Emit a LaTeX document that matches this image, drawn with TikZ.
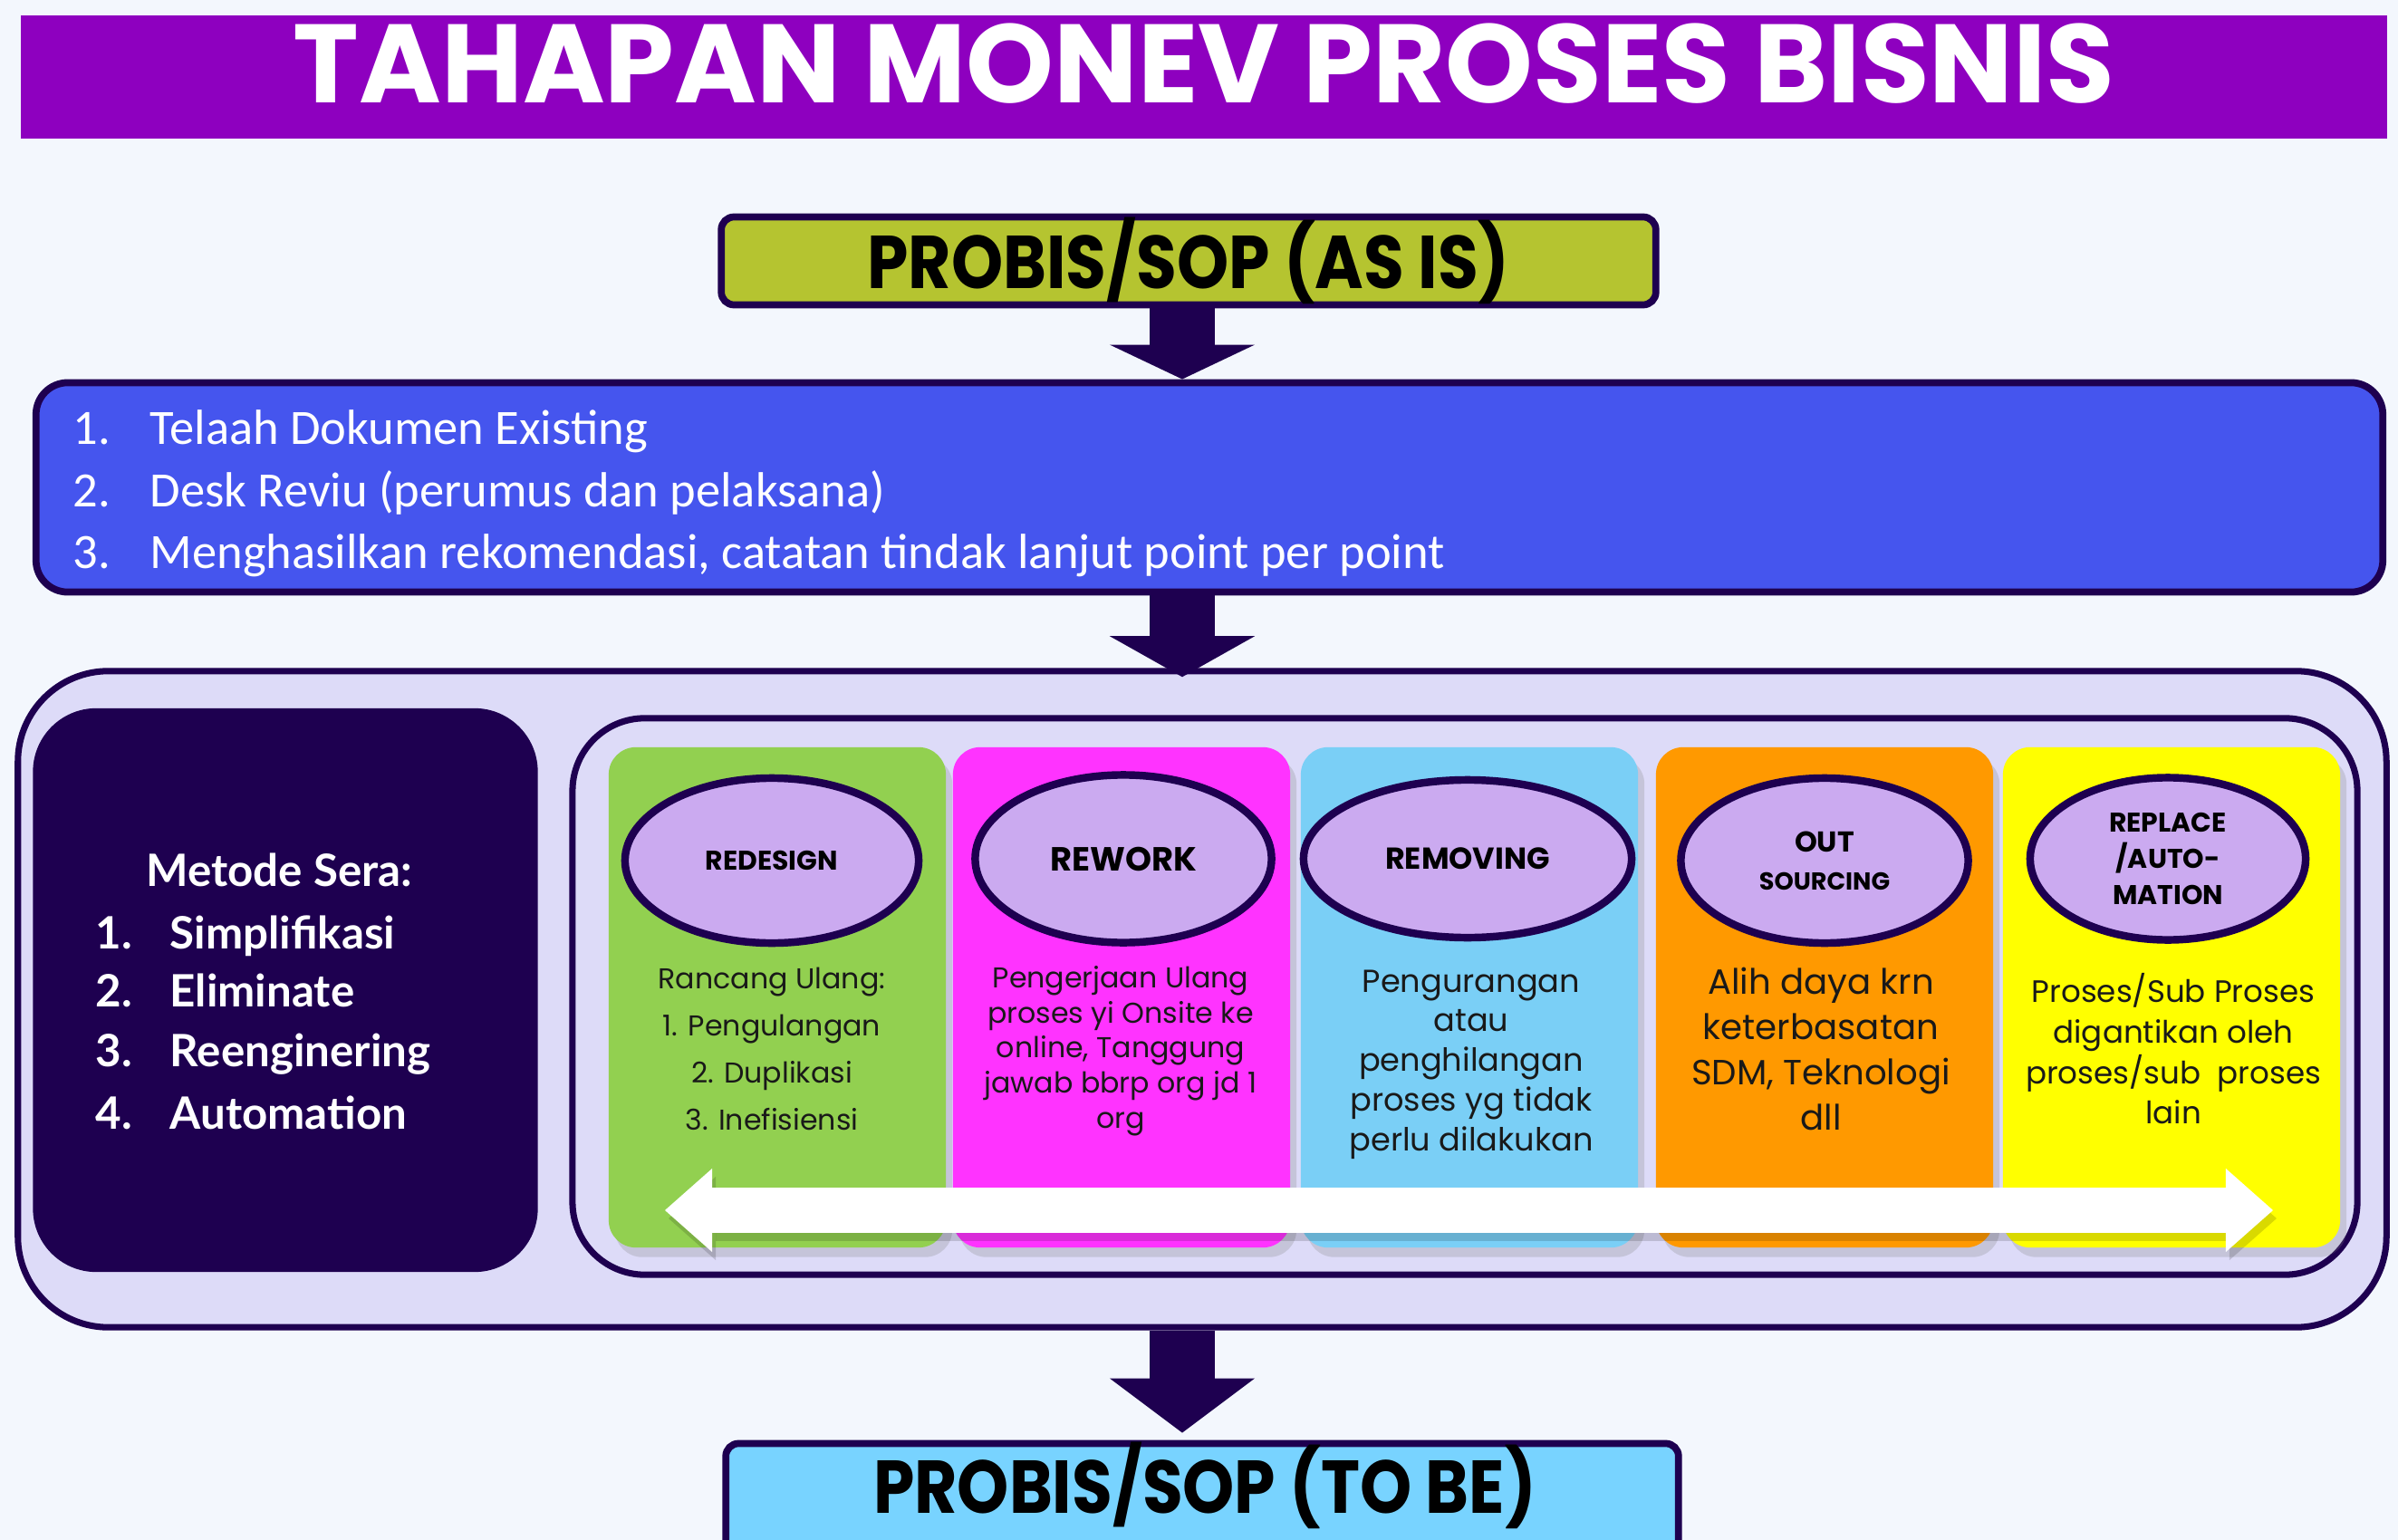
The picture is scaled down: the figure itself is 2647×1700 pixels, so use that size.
\documentclass[tikz,border=0pt]{standalone}
\usepackage{graphicx}
\usepackage{fontspec}
\usetikzlibrary{shapes.geometric,arrows.meta,shadows,positioning,calc}

\newfontfamily\popfont{Poppins}
\newfontfamily\calfont{Carlito}
\newfontfamily\latfont{Lato}
\newcommand{\setfs}[2]{\fontsize{#1}{#2}\selectfont}

\definecolor{pagebg}{HTML}{F3F7FD}
\definecolor{titlepurple}{HTML}{8E00BF}
\definecolor{navy}{HTML}{1E0050}
\definecolor{asisgreen}{HTML}{B5C430}
\definecolor{stepblue}{HTML}{4555EE}
\definecolor{lavender}{HTML}{DDDBF8}
\definecolor{ovalfill}{HTML}{CBAAF0}
\definecolor{colgreen}{HTML}{92D050}
\definecolor{colpink}{HTML}{FF33FF}
\definecolor{colsky}{HTML}{7ACFF6}
\definecolor{colorange}{HTML}{FF9900}
\definecolor{colyellow}{HTML}{FFFF00}
\definecolor{tobeblue}{HTML}{78D3FF}

\tikzset{
  flowbox/.style={draw=navy, line width=2.2pt, rounded corners=4pt, inner sep=0pt},
  bigarrow/.style={navy, line width=0.72cm,
    -{Triangle[width=1.6cm, length=#1, line width=0pt]}},
  bigarrow/.default=0.42cm,
  dblarrow/.style={line width=0.5cm,
    {Triangle[width=0.92cm, length=0.52cm, line width=0pt]}-{Triangle[width=0.92cm, length=0.52cm, line width=0pt]}},
  colbox/.style={rounded corners=0.3cm, minimum width=3.72cm, minimum height=5.52cm,
    drop shadow={shadow xshift=2pt, shadow yshift=-3pt, opacity=0.25}},
  oval/.style={ellipse, draw=navy, line width=2.4pt, fill=ovalfill, align=center,
    inner sep=0pt, font=\popfont\bfseries},
  coltext/.style={align=center, text=black!90},
  probistext/.style={font=\popfont\bfseries\setfs{23.5}{28}, inner sep=0pt},
  steptext/.style={anchor=base west, inner sep=0pt, text=white, font=\calfont\setfs{15.5}{18}},
  metodetext/.style={anchor=base west, inner sep=0pt, text=white, font=\latfont\bfseries\setfs{14}{17}},
}

\begin{document}
\begin{tikzpicture}[x=0.01cm,y=-0.01cm]
\useasboundingbox (0,0) rectangle (2647,1700);
\fill[pagebg] (0,0) rectangle (2647,1700);

% judul
\node[fill=titlepurple, minimum width=26.10cm, minimum height=1.35cm] (bar) at (1329,85) {};
\node[font=\popfont\bfseries\setfs{35}{40}, text=white] (title) at (1329,70) {TAHAPAN MONEV PROSES BISNIS};

% probis as is
\node[flowbox, fill=asisgreen, minimum width=10.31cm, minimum height=0.97cm] (asis) at (1312,288) {};
\node[probistext] (asistext) at (1312,288) {\scalebox{0.88}[1]{PROBIS/SOP (AS IS)}};

% langkah telaah
\node[flowbox, fill=stepblue, rounded corners=0.35cm, minimum width=25.89cm,
  minimum height=2.31cm] (steps) at (1335,538) {};
\foreach \n/\y/\t in {1/490/Telaah Dokumen Existing,
                      2/559/Desk Reviu (perumus dan pelaksana),
                      3/627/{Menghasilkan rekomendasi, catatan tindak lanjut point per point}} {
    \node[steptext] (sn\n) at (80,\y) {\n.};
    \node[steptext] (st\n) at (165,\y) {\t};
}

% kotak metode
\node[flowbox, fill=lavender, rounded corners=1cm, line width=2pt,
  minimum width=26.13cm, minimum height=7.24cm] (outer) at (1327,1103) {};
\node[fill=navy, rounded corners=0.7cm, minimum width=5.57cm, minimum height=6.22cm] (metode) at (315,1093) {};
\node[metodetext] (mhead) at (161,978) {Metode Sera:};
\foreach \n/\y/\t in {1/1047/Simplifikasi, 2/1111/Eliminate, 3/1177/Reenginering, 4/1246/Automation} {
    \node[metodetext] (mn\n) at (105,\y) {\n.};
    \node[metodetext] (mt\n) at (187,\y) {\t};
}

\node[flowbox, fill=lavender, rounded corners=0.8cm, line width=2pt,
  minimum width=19.69cm, minimum height=6.14cm] (inner) at (1617,1100) {};

% kolom
\foreach \cx/\col/\nm in {858/colgreen/c1, 1238/colpink/c2, 1622/colsky/c3,
                          2014/colorange/c4, 2397/colyellow/c5}
    \node[colbox, fill=\col] (\nm) at (\cx,1101) {};

\node[oval, minimum width=3.24cm, minimum height=1.82cm, font=\popfont\bfseries\setfs{8.5}{10}] (o1) at (852,950) {REDESIGN};
\node[oval, minimum width=3.27cm, minimum height=1.85cm, font=\popfont\bfseries\setfs{10.5}{12}] (o2) at (1240,948) {REWORK};
\node[oval, minimum width=3.62cm, minimum height=1.74cm, font=\popfont\bfseries\setfs{9.5}{11}] (o3) at (1620,948) {REMOVING};
\node[oval, minimum width=3.17cm, minimum height=1.82cm] (o4) at (2014,950)
  {{\setfs{9}{9.1}OUT}\\{\setfs{7.7}{9.1}SOURCING}};
\node[oval, minimum width=3.04cm, minimum height=1.79cm, font=\popfont\bfseries\setfs{8.5}{11.4}] (o5) at (2393,948)
  {REPLACE\\/AUTO-\\MATION};

\node[coltext, font=\popfont\setfs{9}{14.8}] (t1) at (852,1158)
  {Rancang Ulang:\\1. Pengulangan\\2. Duplikasi\\3. Inefisiensi};
\node[coltext, font=\popfont\setfs{9}{11}] (t2) at (1237,1160)
  {Pengerjaan Ulang\\proses yi Onsite ke\\online, Tanggung\\jawab bbrp org jd 1\\org};
\node[coltext, font=\popfont\setfs{10}{12.45}] (t3) at (1624,1175)
  {Pengurangan\\atau\\penghilangan\\proses yg tidak\\perlu dilakukan};
\node[coltext, font=\popfont\setfs{11}{14.2}] (t4) at (2010,1158)
  {Alih daya krn\\keterbasatan\\SDM, Teknologi\\dll};
\node[coltext, font=\popfont\setfs{9.7}{12.7}] (t5) at (2399,1158)
  {Proses/Sub Proses\\digantikan oleh\\proses/sub\ \ proses\\lain};

% panah putih
\coordinate (la) at (734,1336);
\coordinate (ra) at (2509,1336);
\draw[dblarrow, black, opacity=0.15] ([shift={(4,9)}]la) -- ([shift={(4,9)}]ra);
\draw[dblarrow, white] (la) -- (ra);

% probis to be
\node[flowbox, fill=tobeblue, minimum width=10.51cm, minimum height=1.19cm] (tobe) at (1327,1653) {};
\node[probistext] (tobetext) at (1330,1640) {\scalebox{0.88}[1]{PROBIS/SOP (TO BE)}};

% panah
\coordinate (ax) at (1305,0);
\coordinate (tip2) at ($(outer.north -| ax)+(0,10)$);
\coordinate (tip3) at ($(tobe.north -| ax)+(0,-8)$);
\draw[bigarrow=0.38cm] (asis.south -| ax) -- (steps.north -| ax);
\draw[bigarrow=0.45cm] (steps.south -| ax) -- (tip2);
\draw[bigarrow=0.6cm] (outer.south -| ax) -- (tip3);

\end{tikzpicture}
\end{document}
